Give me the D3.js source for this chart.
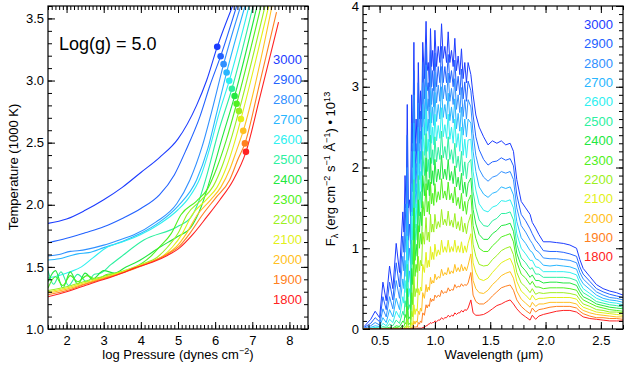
<!DOCTYPE html>
<html>
<head>
<meta charset="utf-8">
<script src="https://cdn.jsdelivr.net/npm/d3@7"></script>
<style>
body { margin: 0; background: #fff; }
svg text { font-family: "Liberation Sans", Arial, sans-serif; fill: #000; }
</style>
</head>
<body>
<svg id="chart" width="630" height="368"></svg>
<script>
// temperatures (K) and their colours, hot -> cool
var temps = [3000, 2900, 2800, 2700, 2600, 2500, 2400, 2300, 2200, 2100, 2000, 1900, 1800];
var colors = ["#1c3cff", "#2262ff", "#3090ff", "#28b6ff", "#2ef0f0", "#2cf0a0", "#22e840", "#50f020",
              "#9cf020", "#e2f018", "#ffc020", "#ff8020", "#ff2222"];

// left panel: T-P profiles, [log P, T/1000]
var prof3000 = [[1.5,1.85],[2.0,1.885],[2.5,1.955],[3.0,2.04],[3.5,2.14],[4.0,2.26],[4.5,2.38],[5.0,2.53],[5.5,2.80],[5.77,3.0],[6.056,3.271],[6.47,3.6]];
var prof2900 = [[1.5,1.694],[2.0,1.73],[2.5,1.775],[3.0,1.823],[3.5,1.89],[4.0,1.97],[4.5,2.08],[4.9,2.24],[5.2,2.43],[5.59,2.71],[5.86,2.96],[6.148,3.196],[6.58,3.6]];
var prof2800 = [[1.5,1.587],[1.8,1.6],[2.1,1.625],[2.3,1.63],[2.6,1.645],[3.0,1.675],[3.5,1.725],[3.8,1.756],[4.4,1.86],[4.97,2.01],[5.32,2.2],[5.65,2.47],[5.95,2.8],[6.228,3.132],[6.688,3.6]];
var prof2700 = [[1.5,1.555],[1.8,1.565],[2.1,1.59],[2.3,1.605],[2.6,1.615],[3.0,1.655],[3.5,1.705],[4.0,1.77],[4.5,1.86],[5.0,1.99],[5.5,2.2],[5.8,2.45],[6.05,2.75],[6.309,3.065],[6.804,3.6]];
var prof2600 = [[1.5,1.41],[1.8,1.43],[2.1,1.46],[2.4,1.5],[2.7,1.57],[3.1,1.66],[3.5,1.70],[4.0,1.76],[4.5,1.845],[5.0,1.96],[5.3,2.06],[5.6,2.22],[5.85,2.45],[6.1,2.73],[6.379,2.998],[6.912,3.6]];
var prof2500 = [[1.5,1.47],[1.65,1.36],[1.85,1.46],[2.05,1.35],[2.3,1.44],[2.55,1.38],[2.75,1.44],[2.92,1.45],[3.2,1.52],[3.46,1.58],[4.08,1.716],[4.98,1.823],[5.35,1.9],[5.55,2.02],[5.74,2.2],[6.1,2.6],[6.452,2.934],[7.02,3.6]];
var prof2400 = [[1.5,1.38],[1.7,1.47],[1.9,1.33],[2.1,1.46],[2.3,1.36],[2.5,1.45],[2.7,1.40],[3.0,1.47],[3.3,1.45],[3.6,1.50],[3.9,1.541],[4.53,1.662],[4.98,1.743],[5.35,1.82],[5.62,1.98],[5.86,2.2],[6.2,2.55],[6.524,2.875],[7.127,3.6]];
var prof2300 = [[1.5,1.33],[1.7,1.42],[1.9,1.35],[2.1,1.43],[2.3,1.38],[2.55,1.43],[2.8,1.40],[3.1,1.44],[3.4,1.45],[3.8,1.49],[4.25,1.58],[4.5,1.66],[4.82,1.77],[5.08,1.92],[5.5,2.03],[5.8,2.13],[6.05,2.3],[6.3,2.52],[6.578,2.813],[7.235,3.6]];
var prof2200 = [[1.5,1.31],[2.0,1.34],[2.5,1.385],[3.0,1.425],[3.5,1.465],[4.0,1.52],[4.45,1.58],[4.72,1.66],[5.0,1.77],[5.24,1.92],[5.63,2.04],[5.95,2.15],[6.2,2.32],[6.42,2.52],[6.64,2.754],[7.343,3.6]];
var prof2100 = [[1.5,1.30],[2.0,1.33],[2.5,1.375],[3.0,1.415],[3.5,1.46],[4.0,1.515],[4.58,1.585],[4.85,1.66],[5.12,1.77],[5.38,1.92],[5.76,2.04],[6.05,2.14],[6.3,2.3],[6.5,2.48],[6.694,2.69],[7.442,3.6]];
var prof2000 = [[1.5,1.29],[2.0,1.32],[2.5,1.365],[3.0,1.41],[3.5,1.455],[4.0,1.51],[4.65,1.595],[4.95,1.66],[5.23,1.77],[5.52,1.92],[5.88,2.04],[6.15,2.14],[6.4,2.29],[6.58,2.44],[6.757,2.595],[7.531,3.6]];
var prof1900 = [[1.5,1.275],[2.0,1.31],[2.5,1.36],[3.0,1.405],[3.5,1.45],[4.0,1.505],[4.7,1.60],[5.03,1.665],[5.32,1.77],[5.66,1.92],[6.0,2.05],[6.39,2.2],[6.62,2.37],[6.802,2.494],[7.2,2.98],[7.652,3.55]];
var prof1800 = [[1.5,1.26],[2.0,1.30],[2.54,1.354],[2.9,1.39],[3.17,1.415],[3.5,1.45],[3.8,1.488],[4.34,1.541],[4.7,1.59],[5.05,1.655],[5.41,1.765],[5.77,1.90],[6.13,2.04],[6.49,2.2],[6.83,2.426],[7.2,2.86],[7.706,3.47]];

// photosphere markers, one per model
var dotP = [6.056, 6.148, 6.228, 6.309, 6.379, 6.452, 6.524, 6.578, 6.640, 6.694, 6.757, 6.802, 6.829];
var dotT = [3.271, 3.196, 3.132, 3.065, 2.998, 2.934, 2.875, 2.813, 2.754, 2.690, 2.595, 2.494, 2.426];

// right panel: wavelength grid (micron) and flux (1e13 erg/cm2/s/A)
var wave = [0.36,0.42,0.46,0.50,0.53,0.56,0.59,0.62,0.65,0.68,
            0.71,0.73,0.75,0.77,0.79,0.81,0.83,0.85,0.87,0.89,
            0.92,0.94,0.96,0.98,1.00,1.03,1.06,1.09,1.12,1.15,
            1.18,1.21,1.24,1.27,1.30,1.325,1.345,1.37,1.40,1.44,
            1.48,1.52,1.56,1.60,1.64,1.68,1.71,1.74,1.78,1.82,
            1.86,1.88,1.91,1.94,1.98,2.04,2.10,2.16,2.22,2.28,
            2.31,2.34,2.40,2.46,2.52,2.58,2.64,2.70];
var spec3000 = [0.03,0.12,0.22,0.14,0.58,0.35,0.78,0.5,1.06,0.7, 1.45,1.9,2.78,1.6,2.9,3.55,2.6,3.3,2.95,3.55, 3.81,3.3,3.72,3.45,3.7,3.5,3.78,3.5,3.68,3.45, 3.6,3.38,3.47,3.3,3.3,3.15,2.9,2.65,2.5,2.38, 2.28,2.33,2.3,2.33,2.28,2.3,2.2,1.85,1.58,1.5, 1.42,1.32,1.25,1.17,1.08,1.08,1.07,1.06,1.04,1.0, 0.86,0.75,0.65,0.55,0.5,0.47,0.45,0.42];
var spec2900 = [0.02,0.07,0.14,0.09,0.4,0.24,0.58,0.36,0.82,0.52, 1.15,1.55,2.4,1.3,2.55,3.2,2.3,3.05,2.7,3.3, 3.52,3.05,3.45,3.2,3.42,3.25,3.5,3.25,3.4,3.2, 3.33,3.13,3.22,3.06,3.07,2.95,2.65,2.38,2.22,2.1, 2.03,2.07,2.08,2.12,2.09,2.11,2.02,1.66,1.42,1.34, 1.24,1.18,1.1,1.05,0.97,0.96,0.96,0.95,0.93,0.9, 0.77,0.68,0.59,0.5,0.46,0.43,0.41,0.39];
var spec2800 = [0.01,0.04,0.08,0.05,0.25,0.15,0.4,0.25,0.6,0.38, 0.9,1.2,2.0,1.0,2.2,2.9,2.05,2.8,2.45,3.05, 3.27,2.85,3.2,2.98,3.18,3.02,3.25,3.02,3.17,2.98, 3.1,2.9,2.99,2.84,2.84,2.75,2.42,2.15,1.98,1.88, 1.83,1.88,1.9,1.95,1.93,1.95,1.85,1.5,1.28,1.2, 1.1,1.06,0.98,0.95,0.88,0.87,0.87,0.86,0.85,0.82, 0.7,0.62,0.54,0.46,0.42,0.39,0.38,0.36];
var spec2700 = [0,0.02,0.04,0.03,0.14,0.08,0.24,0.15,0.38,0.24, 0.62,0.85,1.55,0.72,1.8,2.55,1.8,2.5,2.2,2.78, 3.0,2.6,2.95,2.75,2.93,2.78,3.0,2.78,2.92,2.75, 2.85,2.67,2.75,2.6,2.6,2.55,2.2,1.95,1.76,1.67, 1.63,1.68,1.7,1.76,1.74,1.76,1.66,1.33,1.13,1.06, 0.97,0.95,0.87,0.85,0.79,0.78,0.79,0.78,0.77,0.74, 0.63,0.56,0.49,0.42,0.38,0.36,0.35,0.33];
var spec2600 = [0,0.01,0.02,0.01,0.07,0.04,0.12,0.08,0.22,0.14, 0.4,0.6,1.15,0.5,1.45,2.2,1.55,2.2,1.95,2.5, 2.72,2.35,2.68,2.5,2.66,2.52,2.74,2.53,2.66,2.5, 2.6,2.42,2.5,2.35,2.34,2.35,1.95,1.72,1.55,1.47, 1.45,1.51,1.53,1.59,1.58,1.6,1.5,1.18,1.0,0.93, 0.85,0.85,0.77,0.76,0.71,0.71,0.71,0.71,0.7,0.67, 0.57,0.5,0.44,0.38,0.35,0.33,0.32,0.3];
var spec2500 = [0,0,0.01,0.01,0.03,0.02,0.06,0.04,0.11,0.07, 0.22,0.35,0.8,0.3,1.1,1.85,1.3,1.9,1.7,2.2, 2.42,2.1,2.4,2.22,2.38,2.25,2.45,2.26,2.38,2.22, 2.3,2.14,2.2,2.07,2.05,2.1,1.7,1.5,1.35,1.28, 1.27,1.34,1.37,1.43,1.43,1.45,1.35,1.05,0.88,0.82, 0.74,0.76,0.68,0.68,0.64,0.64,0.64,0.64,0.63,0.6, 0.51,0.45,0.4,0.34,0.32,0.3,0.29,0.27];
var spec2400 = [0,0,0,0,0.01,0.01,0.02,0.01,0.04,0.03, 0.1,0.18,0.5,0.15,0.75,1.5,1.05,1.6,1.45,1.9, 2.12,1.85,2.12,1.96,2.1,1.98,2.15,1.98,2.1,1.95, 2.02,1.88,1.93,1.82,1.8,1.87,1.48,1.3,1.17,1.11, 1.11,1.18,1.22,1.28,1.29,1.31,1.21,0.94,0.78,0.72, 0.64,0.67,0.6,0.6,0.57,0.58,0.58,0.57,0.57,0.54, 0.46,0.4,0.36,0.31,0.29,0.27,0.26,0.25];
var spec2300 = [0,0,0,0,0,0,0.01,0,0.02,0.01, 0.04,0.08,0.28,0.07,0.45,1.1,0.8,1.28,1.18,1.58, 1.8,1.58,1.82,1.68,1.8,1.7,1.86,1.71,1.82,1.68, 1.76,1.63,1.68,1.58,1.58,1.66,1.28,1.12,1.0,0.96, 0.96,1.03,1.08,1.14,1.16,1.18,1.08,0.83,0.68,0.63, 0.55,0.59,0.52,0.52,0.5,0.51,0.51,0.51,0.5,0.48, 0.41,0.36,0.32,0.28,0.26,0.24,0.23,0.22];
var spec2200 = [0,0,0,0,0,0,0,0,0.01,0, 0.01,0.03,0.12,0.03,0.22,0.65,0.5,0.9,0.85,1.2, 1.38,1.2,1.42,1.3,1.42,1.33,1.48,1.36,1.46,1.35, 1.43,1.33,1.39,1.31,1.31,1.42,1.05,0.9,0.8,0.78, 0.79,0.86,0.91,0.97,1.0,1.02,0.92,0.7,0.57,0.52, 0.45,0.5,0.43,0.45,0.44,0.45,0.45,0.45,0.44,0.42, 0.36,0.31,0.28,0.24,0.23,0.21,0.21,0.2];
var spec2100 = [0,0,0,0,0,0,0,0,0,0, 0,0.01,0.04,0.01,0.08,0.3,0.25,0.5,0.52,0.8, 0.95,0.85,1.02,0.95,1.05,0.98,1.1,1.02,1.1,1.02, 1.1,1.03,1.08,1.03,1.06,1.18,0.82,0.7,0.62,0.6, 0.63,0.7,0.76,0.82,0.85,0.875,0.78,0.59,0.47,0.42, 0.36,0.42,0.36,0.38,0.38,0.39,0.39,0.39,0.39,0.37, 0.31,0.27,0.24,0.21,0.2,0.19,0.18,0.17];
var spec2000 = [0,0,0,0,0,0,0,0,0,0, 0,0,0.01,0,0.02,0.1,0.1,0.22,0.26,0.45, 0.55,0.52,0.64,0.6,0.68,0.65,0.74,0.7,0.76,0.72, 0.8,0.76,0.8,0.77,0.79,0.93,0.6,0.5,0.45,0.44, 0.48,0.55,0.6,0.66,0.69,0.71,0.63,0.47,0.37,0.32, 0.27,0.33,0.28,0.31,0.31,0.33,0.33,0.33,0.33,0.31, 0.26,0.23,0.2,0.18,0.17,0.16,0.15,0.15];
var spec1900 = [0,0,0,0,0,0,0,0,0,0, 0,0,0,0,0.01,0.03,0.03,0.08,0.1,0.2, 0.3,0.3,0.38,0.37,0.42,0.42,0.48,0.46,0.51,0.49, 0.55,0.53,0.56,0.55,0.57,0.7,0.42,0.34,0.31,0.31, 0.35,0.41,0.46,0.51,0.53,0.545,0.48,0.36,0.28,0.23, 0.19,0.26,0.21,0.24,0.25,0.27,0.28,0.28,0.28,0.26, 0.22,0.19,0.16,0.14,0.14,0.13,0.13,0.12];
var spec1800 = [0,0,0,0,0,0,0,0,0,0, 0,0,0,0,0,0,0,0.01,0.01,0.02, 0.04,0.06,0.08,0.08,0.1,0.11,0.14,0.14,0.17,0.17, 0.2,0.2,0.23,0.24,0.26,0.36,0.2,0.17,0.17,0.18, 0.21,0.25,0.29,0.31,0.34,0.36,0.31,0.25,0.19,0.15, 0.11,0.17,0.12,0.16,0.18,0.2,0.22,0.23,0.23,0.21, 0.18,0.15,0.13,0.12,0.11,0.1,0.1,0.1];

// absorption dips between the grid points of the optical / J-band line forest
var waveDip = [0.72,0.74,0.76,0.78,0.80,0.82,0.84,0.86,0.88,0.905,0.93,0.95,0.97,0.99,1.015,1.045,1.075,1.105,1.135,1.165,1.195,1.225,1.255,1.285];
var dip3000 = [1.2,1.5,1.5,1.4,2.3,2.2,2.3,2.6,2.6,3.1,3.2,3.0,3.25,3.2,3.25,3.3,3.35,3.3,3.3,3.25,3.2,3.15,3.1,3.05];
var dip2900 = [0.95,1.2,1.1,1.05,2.0,1.9,2.0,2.3,2.35,2.85,2.95,2.75,3.0,2.95,3.0,3.05,3.05,3.05,3.05,3.0,2.95,2.9,2.85,2.82];
var dip2800 = [0.72,0.95,0.85,0.8,1.7,1.7,1.75,2.05,2.1,2.6,2.7,2.55,2.78,2.75,2.8,2.82,2.85,2.83,2.82,2.78,2.72,2.68,2.63,2.6];
var dip2700 = [0.5,0.65,0.58,0.55,1.4,1.5,1.5,1.85,1.9,2.4,2.45,2.32,2.55,2.52,2.57,2.6,2.62,2.6,2.58,2.55,2.48,2.45,2.4,2.38];
var dip2600 = [0.32,0.45,0.4,0.38,1.1,1.25,1.3,1.6,1.7,2.15,2.2,2.1,2.3,2.28,2.33,2.36,2.38,2.36,2.35,2.3,2.25,2.2,2.15,2.12];
var dip2500 = [0.17,0.27,0.24,0.24,0.8,1.05,1.1,1.4,1.5,1.9,1.95,1.87,2.05,2.03,2.07,2.1,2.12,2.1,2.1,2.05,2.0,1.95,1.9,1.86];
var dip2400 = [0.08,0.14,0.12,0.12,0.55,0.85,0.9,1.2,1.28,1.65,1.72,1.65,1.8,1.78,1.82,1.85,1.86,1.85,1.84,1.8,1.76,1.72,1.68,1.64];
var dip2300 = [0.03,0.06,0.05,0.05,0.3,0.65,0.7,1.0,1.05,1.4,1.45,1.42,1.55,1.53,1.57,1.6,1.62,1.6,1.6,1.56,1.53,1.49,1.46,1.42];
var dip2200 = [0.01,0.02,0.02,0.02,0.15,0.4,0.45,0.72,0.78,1.05,1.1,1.08,1.2,1.2,1.24,1.26,1.29,1.28,1.28,1.26,1.24,1.22,1.2,1.18];
var dip2100 = [0,0.01,0.01,0.01,0.05,0.18,0.22,0.42,0.47,0.7,0.76,0.77,0.86,0.86,0.9,0.92,0.95,0.95,0.95,0.96,0.95,0.95,0.94,0.95];
var dip2000 = [0,0,0,0,0.01,0.06,0.08,0.18,0.22,0.38,0.46,0.48,0.56,0.57,0.61,0.63,0.66,0.67,0.68,0.69,0.71,0.71,0.72,0.72];
var dip1900 = [0,0,0,0,0,0.02,0.02,0.06,0.08,0.17,0.26,0.28,0.34,0.35,0.39,0.4,0.44,0.45,0.47,0.48,0.51,0.52,0.53,0.54];
var dip1800 = [0,0,0,0,0,0,0,0.01,0.01,0.02,0.04,0.06,0.07,0.08,0.09,0.11,0.12,0.14,0.15,0.16,0.18,0.2,0.21,0.23];

var profiles = [prof3000, prof2900, prof2800, prof2700, prof2600, prof2500, prof2400, prof2300, prof2200, prof2100, prof2000, prof1900, prof1800];
var spectra = [spec3000, spec2900, spec2800, spec2700, spec2600, spec2500, spec2400, spec2300, spec2200, spec2100, spec2000, spec1900, spec1800];
var dips = [dip3000, dip2900, dip2800, dip2700, dip2600, dip2500, dip2400, dip2300, dip2200, dip2100, dip2000, dip1900, dip1800];

// merge grid points and dips into one sorted series per model
var specSeries = spectra.map(function (s, k) {
    var pts = wave.map(function (w, i) { return [w, s[i]]; })
        .concat(waveDip.map(function (w, i) { return [w, dips[k][i]]; }));
    return pts.sort(function (a, b) { return a[0] - b[0]; });
});

var svg = d3.select("#chart");

// scales
var xP = d3.scaleLinear().domain([1.5, 8.5]).range([48, 308]);
var yT = d3.scaleLinear().domain([1.0, 3.6]).range([329, 6]);
var xW = d3.scaleLinear().domain([0.35, 2.7]).range([363, 623]);
var yF = d3.scaleLinear().domain([0, 4]).range([329, 6]);

var defs = svg.append("defs");
defs.append("clipPath").attr("id", "clipL").append("rect")
    .attr("x", 48).attr("y", 6).attr("width", 260).attr("height", 323);
defs.append("clipPath").attr("id", "clipR").append("rect")
    .attr("x", 363).attr("y", 6).attr("width", 260).attr("height", 323);

// ---- left panel curves
var profLine = d3.line()
    .x(function (d) { return xP(d[0]); })
    .y(function (d) { return yT(d[1]); })
    .curve(d3.curveMonotoneX);

var gL = svg.append("g").attr("clip-path", "url(#clipL)");
gL.selectAll("path.prof")
    .data(profiles)
    .enter()
    .append("path")
    .attr("class", "prof")
    .attr("d", profLine)
    .attr("fill", "none")
    .attr("stroke", function (d, i) { return colors[i]; })
    .attr("stroke-width", 1.1);

gL.selectAll("circle")
    .data(temps)
    .enter()
    .append("circle")
    .attr("cx", function (d, i) { return xP(dotP[i]); })
    .attr("cy", function (d, i) { return yT(dotT[i]); })
    .attr("r", 3.3)
    .attr("fill", function (d, i) { return colors[i]; });

// ---- right panel spectra
var specLine = d3.line()
    .x(function (d) { return xW(d[0]); })
    .y(function (d) { return yF(d[1]); });

var gR = svg.append("g").attr("clip-path", "url(#clipR)");
gR.selectAll("path.spec")
    .data(specSeries)
    .enter()
    .append("path")
    .attr("class", "spec")
    .attr("d", specLine)
    .attr("fill", "none")
    .attr("stroke", function (d, i) { return colors[i]; })
    .attr("stroke-width", 1);

// ---- box axes with inward ticks on all four sides
function boxAxes(x, y, xMajor, xMinor, yMajor, yMinor, xFmt, yFmt) {
    var left = x.range()[0], right = x.range()[1];
    var bottom = y.range()[0], top = y.range()[1];

    function styleAxis(g) {
        g.select(".domain").remove();
        g.selectAll("line").attr("stroke", "#000").attr("stroke-width", 1);
        g.selectAll("text").attr("font-family", "Liberation Sans, Arial, sans-serif")
            .attr("font-size", 13).attr("fill", "#000");
    }

    var sides = [
        [function () { return d3.axisBottom(x); }, "translate(0," + bottom + ")", xMajor, xMinor, xFmt, 7],
        [function () { return d3.axisTop(x); }, "translate(0," + top + ")", xMajor, xMinor, null, 7],
        [function () { return d3.axisLeft(y); }, "translate(" + left + ",0)", yMajor, yMinor, yFmt, 4],
        [function () { return d3.axisRight(y); }, "translate(" + right + ",0)", yMajor, yMinor, null, 4]
    ];
    sides.forEach(function (s) {
        var major = s[0]().tickValues(s[2]).tickSize(-7).tickPadding(s[5])
            .tickFormat(s[4] ? s[4] : function () { return ""; });
        svg.append("g").attr("transform", s[1]).call(major).call(styleAxis);
        var minor = s[0]().tickValues(s[3]).tickSize(-4).tickFormat(function () { return ""; });
        svg.append("g").attr("transform", s[1]).call(minor).call(styleAxis);
    });

    svg.append("rect")
        .attr("x", left).attr("y", top)
        .attr("width", right - left).attr("height", bottom - top)
        .attr("fill", "none").attr("stroke", "#000").attr("stroke-width", 1.2);
}

function tenths(a, b) { return d3.range(a, b + 1).map(function (v) { return v / 10; }); }

boxAxes(xP, yT,
    [2, 3, 4, 5, 6, 7, 8], tenths(15, 85),
    [1.0, 1.5, 2.0, 2.5, 3.0, 3.5], tenths(10, 36),
    d3.format("d"), d3.format(".1f"));

boxAxes(xW, yF,
    [0.5, 1.0, 1.5, 2.0, 2.5], tenths(4, 27),
    [0, 1, 2, 3, 4], tenths(0, 40),
    d3.format(".1f"), d3.format("d"));

// ---- legends
svg.append("g").selectAll("text")
    .data(temps)
    .enter()
    .append("text")
    .attr("x", 302)
    .attr("y", function (d, i) { return 64 + i * 20; })
    .attr("text-anchor", "end")
    .attr("font-size", 13)
    .style("fill", function (d, i) { return colors[i]; })
    .text(function (d) { return d; });

svg.append("g").selectAll("text")
    .data(temps)
    .enter()
    .append("text")
    .attr("x", 613)
    .attr("y", function (d, i) { return 29 + i * 19.37; })
    .attr("text-anchor", "end")
    .attr("font-size", 13)
    .style("fill", function (d, i) { return colors[i]; })
    .text(function (d) { return d; });

svg.append("text")
    .attr("x", 59).attr("y", 50)
    .attr("font-size", 18)
    .text("Log(g) = 5.0");

// ---- axis titles with super/subscripts
function richText(t, parts, size) {
    var shift = 0;
    parts.forEach(function (p) {
        var target = p[1] === 1 ? -5 : (p[1] === -1 ? 3 : 0);
        t.append("tspan")
            .attr("dy", target - shift)
            .attr("font-size", p[1] === 0 ? size : size * 0.7)
            .text(p[0]);
        shift = target;
    });
}

var xl = svg.append("text").attr("x", 178).attr("y", 359)
    .attr("text-anchor", "middle").attr("font-size", 13);
richText(xl, [["log Pressure (dynes cm", 0], ["\u22122", 1], [")", 0]], 13);

svg.append("text").attr("x", 494).attr("y", 359)
    .attr("text-anchor", "middle").attr("font-size", 13)
    .text("Wavelength (\u03bcm)");

svg.append("text")
    .attr("transform", "translate(18,167) rotate(-90)")
    .attr("text-anchor", "middle").attr("font-size", 13)
    .text("Temperature (1000 K)");

var yl = svg.append("text")
    .attr("transform", "translate(335,169) rotate(-90)")
    .attr("text-anchor", "middle").attr("font-size", 13);
richText(yl, [["F", 0], ["\u03bb", -1], [" (erg cm", 0], ["\u22122", 1], [" s", 0], ["\u22121", 1],
    [" \u00c5", 0], ["\u22121", 1], [") \u2022 10", 0], ["13", 1]], 13);
</script>
</body>
</html>
